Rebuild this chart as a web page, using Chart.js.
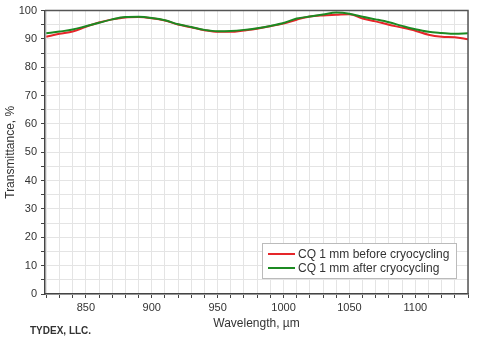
<!DOCTYPE html>
<html>
<head>
<meta charset="utf-8">
<script src="https://cdn.jsdelivr.net/npm/chart.js@4"></script>
<style>
  html, body { margin: 0; padding: 0; background: #fff; }
  #wrap { width: 478px; height: 340px; }
</style>
</head>
<body>
<div id="wrap"><canvas id="chart" width="478" height="340"></canvas></div>
<script>
// Wavelength samples, nm (axis is labelled in µm as on the original sheet)
const wavelengths = [820, 830, 840, 850, 860, 870, 880, 890, 900, 910, 920, 930, 940, 950, 960, 970, 980,
    990, 1000, 1010, 1020, 1030, 1040, 1050, 1060, 1070, 1080, 1090, 1100, 1110, 1120, 1130, 1140];

// Transmittance, %
const beforeCryo = [90.8, 91.8, 92.6, 94.3, 95.8, 96.9, 97.6, 97.7, 97.3, 96.5, 95.1, 94.1, 93.1, 92.5, 92.5,
    93.0, 93.6, 94.5, 95.4, 96.8, 97.9, 98.3, 98.5, 98.7, 97.2, 96.2, 95.0, 94.0, 92.9, 91.5, 90.8, 90.6, 89.9];
const afterCryo = [92.0, 92.6, 93.3, 94.5, 95.7, 96.9, 97.7, 97.8, 97.4, 96.6, 95.2, 94.2, 93.2, 92.7, 92.8,
    93.2, 93.8, 94.6, 95.6, 97.2, 97.9, 98.6, 99.3, 98.9, 97.8, 96.9, 95.9, 94.6, 93.4, 92.5, 92.1, 91.8, 92.0];

const seriesLabels = ['CQ 1 mm before cryocycling', 'CQ 1 mm after cryocycling'];
const seriesColors = ['#e5262a', '#1c8a22'];

const xTicks = [];
for (let v = 820; v <= 1140; v += 10) xTicks.push(v);
const yTicks = [];
for (let v = 0; v <= 100; v += 5) yTicks.push(v);

const toPoints = ys => wavelengths.map((x, i) => ({ x, y: ys[i] }));

// frame on top/right, in-plot legend and company tag
const decorPlugin = {
    id: 'decor',
    afterDraw(chart) {
        const ctx = chart.ctx;
        const a = chart.chartArea;
        ctx.save();
        ctx.strokeStyle = '#555';
        ctx.lineWidth = 1.5;
        ctx.beginPath();
        ctx.moveTo(a.left, a.top);
        ctx.lineTo(a.right, a.top);
        ctx.lineTo(a.right, a.bottom);
        ctx.stroke();

        // legend box
        const bx = 262.5, by = 243.5, bw = 194, bh = 35;
        ctx.fillStyle = '#fff';
        ctx.fillRect(bx, by, bw, bh);
        ctx.strokeStyle = '#bbb';
        ctx.lineWidth = 1;
        ctx.strokeRect(bx, by, bw, bh);
        ctx.font = '12px "Liberation Sans", Arial, sans-serif';
        ctx.textBaseline = 'middle';
        chart.data.datasets.forEach((ds, i) => {
            const ly = 254 + i * 14;
            ctx.strokeStyle = ds.borderColor;
            ctx.lineWidth = 2;
            ctx.beginPath();
            ctx.moveTo(268, ly);
            ctx.lineTo(295, ly);
            ctx.stroke();
            ctx.fillStyle = '#333';
            ctx.fillText(ds.label, 298, ly + 0.5);
        });

        ctx.font = 'bold 10px "Liberation Sans", Arial, sans-serif';
        ctx.fillStyle = '#333';
        ctx.textBaseline = 'middle';
        ctx.fillText('TYDEX, LLC.', 30, 331);
        ctx.restore();
    }
};

const tickFont = { family: '"Liberation Sans", Arial, sans-serif', size: 11 };

new Chart(document.getElementById('chart'), {
    type: 'line',
    data: {
        datasets: [
            { label: seriesLabels[0], data: toPoints(beforeCryo), borderColor: seriesColors[0], order: 1 },
            { label: seriesLabels[1], data: toPoints(afterCryo), borderColor: seriesColors[1], order: 0 }
        ]
    },
    options: {
        responsive: false,
        animation: false,
        layout: { padding: { top: 7, right: 10, left: 0, bottom: 0 } },
        elements: {
            point: { radius: 0 },
            line: { borderWidth: 2, cubicInterpolationMode: 'monotone' }
        },
        plugins: { legend: { display: false }, tooltip: { enabled: false } },
        scales: {
            x: {
                type: 'linear',
                min: 819,
                max: 1140,
                afterBuildTicks: s => { s.ticks = xTicks.map(value => ({ value })); },
                afterFit: s => { s.height = 46; },
                border: { color: '#444', width: 1.5 },
                grid: {
                    color: '#e4e4e4',
                    tickColor: '#444',
                    tickLength: 4
                },
                ticks: {
                    autoSkip: false,
                    maxRotation: 0,
                    padding: 3,
                    color: '#333',
                    font: tickFont,
                    callback: v => (v % 50 === 0 ? v : '')
                },
                title: {
                    display: true,
                    text: 'Wavelength, µm',
                    color: '#333',
                    font: { family: tickFont.family, size: 12 },
                    padding: { top: 0, bottom: 9 }
                }
            },
            y: {
                min: 0,
                max: 100,
                afterBuildTicks: s => { s.ticks = yTicks.map(value => ({ value })); },
                afterFit: s => { s.width = 45; },
                border: { color: '#444', width: 1.5 },
                grid: {
                    color: '#e4e4e4',
                    tickColor: '#444',
                    tickLength: 4
                },
                ticks: {
                    autoSkip: false,
                    padding: 4,
                    color: '#333',
                    font: tickFont,
                    callback: v => (v % 10 === 0 ? v : '')
                },
                title: {
                    display: true,
                    text: 'Transmittance, %',
                    color: '#333',
                    font: { family: tickFont.family, size: 12 },
                    padding: { top: 3, bottom: 0 }
                }
            }
        }
    },
    plugins: [decorPlugin]
});
</script>
</body>
</html>
